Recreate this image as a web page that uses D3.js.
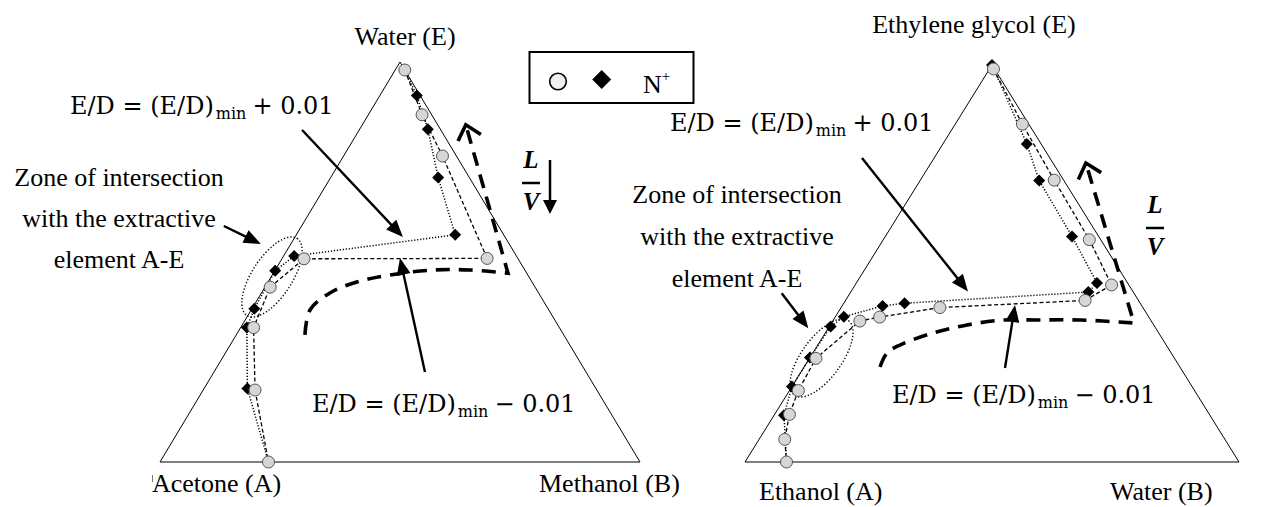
<!DOCTYPE html>
<html>
<head>
<meta charset="utf-8">
<script src="https://cdn.jsdelivr.net/npm/d3@7"></script>
<style>
  body { margin: 0; background: #fff; }
  svg { display: block; }
</style>
</head>
<body>
<svg id="chart" width="1261" height="507"></svg>
<script>
// Composition profiles as [xB, xE] mole fractions (xA = 1 - xB - xE).
// Circles: E/D = (E/D)min - 0.01 ; diamonds: E/D = (E/D)min + 0.01
const acetoneCircles = [
  [0.020, 0.980], [0.112, 0.868], [0.206, 0.765], [0.427, 0.509],
  [0.046, 0.508], [0.011, 0.437], [0.027, 0.336], [0.108, 0.180],
  [0.226, 0.000]
];
const acetoneDiamonds = [
  [0.020, 0.980], [0.077, 0.916], [0.142, 0.832], [0.224, 0.711],
  [0.331, 0.568], [0.022, 0.515], [0.001, 0.478], [0.005, 0.383],
  [0.013, 0.336], [0.090, 0.184], [0.226, 0.000]
];
const ethanolCircles = [
  [0.008, 0.990], [0.136, 0.851], [0.271, 0.710], [0.417, 0.560],
  [0.519, 0.446], [0.485, 0.407], [0.200, 0.389], [0.090, 0.365],
  [0.055, 0.355], [0.013, 0.261], [0.018, 0.180], [0.030, 0.120],
  [0.052, 0.057], [0.084, 0.000]
];
const ethanolDiamonds = [
  [0.000, 1.000], [0.170, 0.801], [0.241, 0.709], [0.378, 0.568],
  [0.487, 0.451], [0.481, 0.428], [0.123, 0.400], [0.082, 0.393],
  [0.017, 0.366], [0.003, 0.341], [0.000, 0.263], [0.000, 0.190],
  [0.020, 0.118], [0.084, 0.000]
];

// Vertex names
const acetoneVertices = ["Acetone (A)", "Methanol (B)", "Water (E)"];
const ethanolVertices = ["Ethanol (A)", "Water (B)", "Ethylene glycol (E)"];
const zoneLines = ["Zone of intersection", "with the extractive", "element A-E"];
const legendLabel = "N";

const svg = d3.select("#chart");
const serif = "'Liberation Serif', 'Times New Roman', serif";
const mathFont = "'DejaVu Serif', serif";

// Panel layouts; annotation geometry is in plot units (u along base, v = height fraction)
const panels = [
  {
    vertices: acetoneVertices, circles: acetoneCircles, diamonds: acetoneDiamonds,
    x0: 160, x1: 640, yBase: 462, yApex: 62,
    topLabel: [405, 45, "middle"], leftLabel: [152, 492, "start"], rightLabel: [539, 492, "start"],
    zone: { x: 119, y: [186, 227, 268] },
    plusLabel: [70, 114], minusLabel: [312, 412],
    lv: { x: 531, yL: 168, yBar: 183, yV: 210, arrow: true },
    bigArc: [[0.302, 0.318], [0.3125, 0.38], [0.354, 0.4225], [0.410, 0.45], [0.479, 0.4675],
             [0.569, 0.48], [0.646, 0.48], [0.725, 0.472]],
    bigTip: [0.637, 0.843],
    arrows: [
      [[0.296, 0.830], [0.506, 0.5625]],
      [[0.133, 0.590], [0.210, 0.545]],
      [[0.552, 0.225], [0.500, 0.510]]
    ],
    ellipse: { c: [0.2333, 0.4625], rx: 46, ry: 20, angle: -57 },
    tick: true
  },
  {
    vertices: ethanolVertices, circles: ethanolCircles, diamonds: ethanolDiamonds,
    x0: 745, x1: 1239, yBase: 462, yApex: 65,
    topLabel: [974, 33, "middle"], leftLabel: [759, 500, "start"], rightLabel: [1110, 500, "start"],
    zone: { x: 737, y: [203, 245, 287] },
    plusLabel: [670, 131], minusLabel: [892, 403],
    lv: { x: 1155, yL: 213, yBar: 228, yV: 255, arrow: false },
    bigArc: [[0.2733, 0.2393], [0.2874, 0.2746], [0.3138, 0.2947], [0.3806, 0.3249], [0.4494, 0.3451],
             [0.5223, 0.3577], [0.5911, 0.3577], [0.6781, 0.3577], [0.7874, 0.3501]],
    bigTip: [0.690, 0.753],
    arrows: [
      [[0.2368, 0.7657], [0.4514, 0.4295]],
      [[0.0743, 0.4249], [0.1281, 0.3368]],
      [[0.5263, 0.2368], [0.5466, 0.3955]]
    ],
    ellipse: { c: [0.1549, 0.262], rx: 46, ry: 20, angle: -54 },
    tick: false
  }
];

function filledArrow(g, p0, p1, len, half, width) {
  const dx = p1[0] - p0[0], dy = p1[1] - p0[1];
  const L = Math.hypot(dx, dy), ux = dx / L, uy = dy / L;
  const bx = p1[0] - ux * len, by = p1[1] - uy * len;
  g.append("line").attr("x1", p0[0]).attr("y1", p0[1]).attr("x2", bx + ux * 2).attr("y2", by + uy * 2)
    .attr("stroke", "#000").attr("stroke-width", width);
  g.append("path")
    .attr("d", d3.line()([[p1[0], p1[1]], [bx - uy * half, by + ux * half], [bx + uy * half, by - ux * half]]) + "Z")
    .attr("fill", "#000");
}

function mathLabel(g, x, y, sign) {
  const t = g.append("text").attr("x", x).attr("y", y)
    .attr("font-family", mathFont).attr("font-size", 24).attr("fill", "#000");
  t.append("tspan").text("E/D = (E/D)");
  t.append("tspan").attr("dy", 5).attr("font-size", 16).attr("dx", 2).text("min");
  t.append("tspan").attr("dy", -5).attr("dx", 6).text(sign + " 0.01");
}

panels.forEach(p => {
  const g = svg.append("g");
  const xs = d3.scaleLinear().domain([0, 1]).range([p.x0, p.x1]);
  const ys = d3.scaleLinear().domain([0, 1]).range([p.yBase, p.yApex]);
  const uv = d => [xs(d[0]), ys(d[1])];
  const comp = d => [xs(d[0] + d[1] / 2), ys(d[1])];

  // Triangle
  const tri = [[0, 0], [1, 0], [0, 1]].map(comp);
  g.append("path").attr("d", d3.line()(tri) + "Z")
    .attr("fill", "none").attr("stroke", "#000").attr("stroke-width", 1);

  if (p.tick) {
    g.append("line").attr("x1", p.x0 - 7.5).attr("x2", p.x0 - 7.5)
      .attr("y1", p.yBase + 13).attr("y2", p.yBase + 20).attr("stroke", "#555").attr("stroke-width", 0.8);
  }

  // Vertex labels
  const vlab = (pos, txt) => g.append("text").attr("x", pos[0]).attr("y", pos[1])
    .attr("text-anchor", pos[2]).attr("font-family", serif).attr("font-size", 26).text(txt);
  vlab(p.leftLabel, p.vertices[0]);
  vlab(p.rightLabel, p.vertices[1]);
  vlab(p.topLabel, p.vertices[2]);

  // Zone of intersection ellipse
  const ec = uv(p.ellipse.c);
  g.append("ellipse").attr("cx", 0).attr("cy", 0).attr("rx", p.ellipse.rx).attr("ry", p.ellipse.ry)
    .attr("transform", `translate(${ec[0]},${ec[1]}) rotate(${p.ellipse.angle})`)
    .attr("fill", "none").attr("stroke", "#000").attr("stroke-width", 1.4).attr("stroke-dasharray", "1.3,2");

  // Heavy dashed direction arrow
  const arcPts = p.bigArc.map(uv);
  const tip = uv(p.bigTip);
  const corner = arcPts[arcPts.length - 1];
  g.append("path")
    .attr("d", d3.line().curve(d3.curveCatmullRom)(arcPts) + "L" + tip[0] + "," + tip[1])
    .attr("fill", "none").attr("stroke", "#000").attr("stroke-width", 3.6)
    .attr("stroke-dasharray", "14,9");
  {
    const dx = tip[0] - corner[0], dy = tip[1] - corner[1];
    const a = Math.atan2(dy, dx), len = 18, spread = 0.72;
    const arm = s => [tip[0] - len * Math.cos(a + s), tip[1] - len * Math.sin(a + s)];
    g.append("path").attr("d", d3.line()([arm(spread), tip, arm(-spread)]))
      .attr("fill", "none").attr("stroke", "#000").attr("stroke-width", 3.6)
      .attr("stroke-linejoin", "miter");
  }

  // Profile lines
  const line = d3.line().x(d => comp(d)[0]).y(d => comp(d)[1]);
  g.append("path").attr("d", line(p.diamonds)).attr("fill", "none")
    .attr("stroke", "#000").attr("stroke-width", 1.5).attr("stroke-dasharray", "1.2,1.8");
  g.append("path").attr("d", line(p.circles)).attr("fill", "none")
    .attr("stroke", "#000").attr("stroke-width", 1.3).attr("stroke-dasharray", "4,2.5");

  // Markers
  const diamond = d3.symbol().type(d3.symbolSquare).size(72);
  g.selectAll(".dia").data(p.diamonds).join("path")
    .attr("d", diamond)
    .attr("transform", d => { const c = comp(d); return `translate(${c[0]},${c[1]}) rotate(45)`; })
    .attr("fill", "#000");
  g.selectAll(".cir").data(p.circles).join("circle")
    .attr("cx", d => comp(d)[0]).attr("cy", d => comp(d)[1]).attr("r", 6)
    .attr("fill", "#d6d6d6").attr("stroke", "#555").attr("stroke-width", 1);

  // Annotation arrows
  p.arrows.forEach(a => filledArrow(g, uv(a[0]), uv(a[1]), 17, 7, 2.4));

  // Zone text
  zoneLines.forEach((t, i) => g.append("text").attr("x", p.zone.x).attr("y", p.zone.y[i])
    .attr("text-anchor", "middle").attr("font-family", serif).attr("font-size", 26).text(t));

  // E/D labels
  mathLabel(g, p.plusLabel[0], p.plusLabel[1], "+");
  mathLabel(g, p.minusLabel[0], p.minusLabel[1], "\u2212");

  // L/V
  const lvText = (y, t) => g.append("text").attr("x", p.lv.x).attr("y", y).attr("text-anchor", "middle")
    .attr("font-family", serif).attr("font-weight", "bold").attr("font-style", "italic")
    .attr("font-size", 25).text(t);
  lvText(p.lv.yL, "L");
  lvText(p.lv.yV, "V");
  g.append("line").attr("x1", p.lv.x - 9).attr("x2", p.lv.x + 9).attr("y1", p.lv.yBar).attr("y2", p.lv.yBar)
    .attr("stroke", "#000").attr("stroke-width", 2.5);
  if (p.lv.arrow) {
    const ax = p.lv.x + 19;
    g.append("line").attr("x1", ax).attr("x2", ax).attr("y1", p.lv.yL - 8).attr("y2", p.lv.yV - 8)
      .attr("stroke", "#000").attr("stroke-width", 2.5);
    g.append("path").attr("d", d3.line()([[ax - 7, p.lv.yV - 10], [ax + 7, p.lv.yV - 10], [ax, p.lv.yV + 4]]) + "Z")
      .attr("fill", "#000");
  }
});

// Legend
const lg = svg.append("g");
lg.append("rect").attr("x", 529.5).attr("y", 52).attr("width", 164).attr("height", 51)
  .attr("fill", "#fff").attr("stroke", "#000").attr("stroke-width", 2);
lg.append("circle").attr("cx", 558).attr("cy", 81.5).attr("r", 8.3)
  .attr("fill", "#efefef").attr("stroke", "#000").attr("stroke-width", 1.6);
lg.append("path").attr("d", d3.symbol().type(d3.symbolSquare).size(180))
  .attr("transform", "translate(601.7,79.5) rotate(45)").attr("fill", "#000");
const nt = lg.append("text").attr("x", 643).attr("y", 93).attr("font-family", serif).attr("font-size", 26);
nt.append("tspan").text(legendLabel);
nt.append("tspan").attr("dy", -12).attr("font-size", 15).text("+");
</script>
</body>
</html>
